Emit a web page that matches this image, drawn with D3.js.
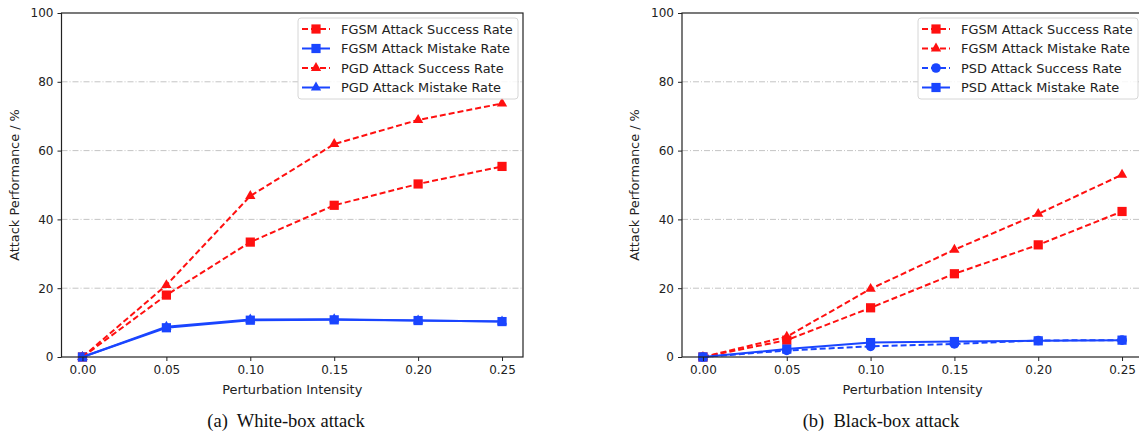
<!DOCTYPE html>
<html><head><meta charset="utf-8">
<script src="https://cdn.jsdelivr.net/npm/d3@7/dist/d3.min.js"></script>
<style>
body{margin:0;background:#fff;}
</style></head>
<body><svg id="c" width="1139" height="437"></svg>
<script>
const xValues = [0.00, 0.05, 0.10, 0.15, 0.20, 0.25];
const xTicks = [0.00, 0.05, 0.10, 0.15, 0.20, 0.25];
const yTicks = [0, 20, 40, 60, 80, 100];

// Panel (a) white-box
const whiteFgsmSuccess = [0, 18.0, 33.4, 44.1, 50.3, 55.4];
const whiteFgsmMistake = [0, 8.5, 10.7, 10.8, 10.6, 10.3];
const whitePgdSuccess  = [0, 20.9, 46.8, 61.9, 68.9, 73.7];
const whitePgdMistake  = [0, 8.8, 10.9, 11.0, 10.6, 10.3];

// Panel (b) black-box
const blackFgsmSuccess = [0, 4.9, 14.3, 24.2, 32.6, 42.3];
const blackFgsmMistake = [0, 5.9, 19.8, 31.2, 41.6, 53.0];
const blackPsdSuccess  = [0, 1.9, 3.1, 3.8, 4.8, 4.9];
const blackPsdMistake  = [0, 2.3, 4.2, 4.5, 4.7, 4.9];

const RED = "#ff1010", BLUE = "#1a45ff";
const SANS = "DejaVu Sans, sans-serif";

const panels = [
  {left:61.5, right:523, caption:"(a)  White-box attack", series:[
    {name:"FGSM Attack Success Rate", vals:whiteFgsmSuccess, color:RED, dash:true, marker:"square"},
    {name:"FGSM Attack Mistake Rate", vals:whiteFgsmMistake, color:BLUE, dash:false, marker:"square"},
    {name:"PGD Attack Success Rate", vals:whitePgdSuccess, color:RED, dash:true, marker:"triangle"},
    {name:"PGD Attack Mistake Rate", vals:whitePgdMistake, color:BLUE, dash:false, marker:"triangle"}
  ], legendX:298, legendW:220, captionX:286},
  {left:682, right:1143, caption:"(b)  Black-box attack", series:[
    {name:"FGSM Attack Success Rate", vals:blackFgsmSuccess, color:RED, dash:true, marker:"square"},
    {name:"FGSM Attack Mistake Rate", vals:blackFgsmMistake, color:RED, dash:true, marker:"triangle"},
    {name:"PSD Attack Success Rate", vals:blackPsdSuccess, color:BLUE, dash:true, marker:"circle"},
    {name:"PSD Attack Mistake Rate", vals:blackPsdMistake, color:BLUE, dash:false, marker:"square"}
  ], legendX:918, legendW:220, captionX:881}
];

const svg = d3.select("#c");
const plotTop = 13, plotBottom = 357;

function drawMarker(g, type, x, y, color){
  if(type==="square"){
    g.append("rect").attr("x",x-4.6).attr("y",y-4.6).attr("width",9.2).attr("height",9.2).attr("fill",color);
  } else if(type==="triangle"){
    g.append("path").attr("d",d3.symbol(d3.symbolTriangle, 46)()).attr("transform",`translate(${x},${y})`).attr("fill",color);
  } else {
    g.append("circle").attr("cx",x).attr("cy",y).attr("r",4.8).attr("fill",color);
  }
}

panels.forEach(p=>{
  const g = svg.append("g");
  const x = d3.scaleLinear().domain([-0.0125, 0.2625]).range([p.left, p.right]);
  const y = d3.scaleLinear().domain([0,100]).range([plotBottom, plotTop]);

  g.selectAll(".grid").data([20,40,60,80]).enter().append("line")
    .attr("x1",p.left).attr("x2",p.right).attr("y1",d=>y(d)).attr("y2",d=>y(d))
    .attr("stroke","#bdbdbd").attr("stroke-width",0.9).attr("stroke-dasharray","6,2,1,2");

  p.series.forEach(s=>{
    const line = d3.line().x((d,i)=>x(xValues[i])).y(d=>y(d));
    g.append("path").datum(s.vals).attr("d",line).attr("fill","none")
      .attr("stroke",s.color).attr("stroke-width",2)
      .attr("stroke-dasharray", s.dash ? "6,3" : null);
    s.vals.forEach((v,i)=>drawMarker(g, s.marker, x(xValues[i]), y(v), s.color));
  });

  g.append("rect").attr("x",p.left).attr("y",plotTop).attr("width",p.right-p.left).attr("height",plotBottom-plotTop)
    .attr("fill","none").attr("stroke","#222").attr("stroke-width",1.2);

  const xa = g.append("g").attr("transform",`translate(0,${plotBottom})`)
    .call(d3.axisBottom(x).tickValues(xTicks).tickFormat(d3.format(".2f")).tickSize(4).tickPadding(4));
  const ya = g.append("g").attr("transform",`translate(${p.left},0)`)
    .call(d3.axisLeft(y).tickValues(yTicks).tickSize(4).tickPadding(4));
  [xa,ya].forEach(a=>{
    a.select(".domain").remove();
    a.attr("font-family",SANS).attr("font-size",12);
    a.selectAll("text").attr("fill","#222");
    a.selectAll("line").attr("stroke","#222");
  });

  g.append("text").attr("x",(p.left+p.right)/2).attr("y",394)
    .attr("text-anchor","middle").attr("font-family",SANS).attr("font-size",12.9).attr("fill","#222").text("Perturbation Intensity");
  g.append("text").attr("transform",`translate(${p.left-43},${(plotTop+plotBottom)/2}) rotate(-90)`)
    .attr("text-anchor","middle").attr("font-family",SANS).attr("font-size",12.9).attr("fill","#222").text("Attack Performance / %");

  g.append("text").attr("x",p.captionX).attr("y",427).attr("text-anchor","middle")
    .attr("font-family","Liberation Serif, serif").attr("font-size",18.5).attr("fill","#111")
    .style("white-space","pre").text(p.caption);

  const lg = g.append("g");
  lg.append("rect").attr("x",p.legendX).attr("y",18).attr("width",p.legendW).attr("height",81)
    .attr("rx",3).attr("fill","#fff").attr("fill-opacity",0.85).attr("stroke","#d6d6d6");
  p.series.forEach((s,i)=>{
    const ly = 29 + i*19.5;
    lg.append("line").attr("x1",p.legendX+4).attr("x2",p.legendX+32).attr("y1",ly).attr("y2",ly)
      .attr("stroke",s.color).attr("stroke-width",2).attr("stroke-dasharray", s.dash ? "6,3":null);
    drawMarker(lg, s.marker, p.legendX+18, ly, s.color);
    lg.append("text").attr("x",p.legendX+43).attr("y",ly+4.7).attr("font-family",SANS).attr("font-size",12.9).attr("fill","#222").text(s.name);
  });
});
</script></body></html>
